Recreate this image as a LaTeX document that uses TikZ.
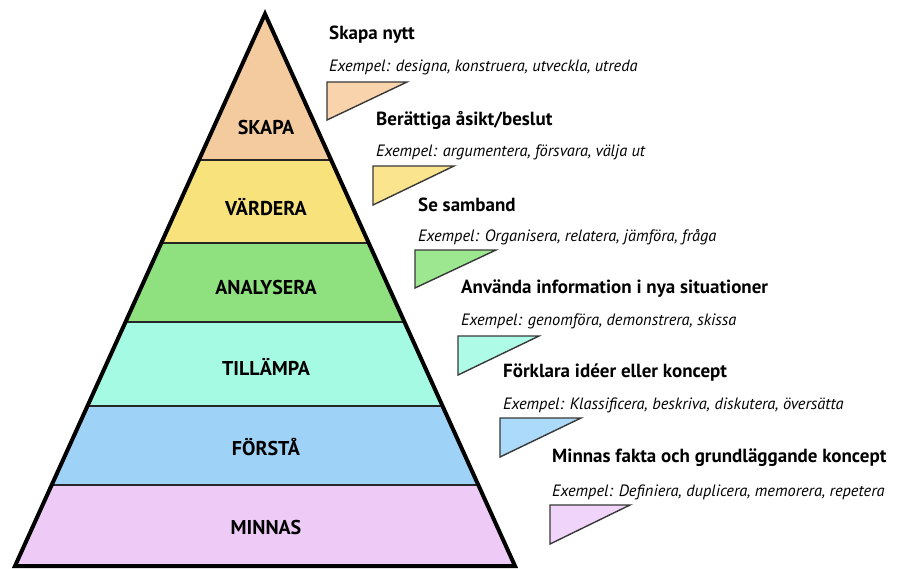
\documentclass[tikz,border=0pt]{standalone}
\usepackage{fontspec}
\setmainfont{PT Sans}
\definecolor{skapafill}{HTML}{F4CB9F}
\definecolor{varderafill}{HTML}{F8E27C}
\definecolor{analysfill}{HTML}{8FE07F}
\definecolor{tillampfill}{HTML}{A4FAE3}
\definecolor{forstafill}{HTML}{9ED2F6}
\definecolor{minnasfill}{HTML}{EECBF7}
\definecolor{skapaflag}{HTML}{F8D3AB}
\definecolor{varderaflag}{HTML}{FAE58E}
\definecolor{analysflag}{HTML}{9DE790}
\definecolor{tillampflag}{HTML}{AEFBE7}
\definecolor{forstaflag}{HTML}{ACDAFA}
\definecolor{minnasflag}{HTML}{F1D4F9}
\tikzset{
  level/.style={font=\bfseries\fontsize{20}{24}\selectfont, inner sep=0pt},
  title/.style={font=\bfseries\fontsize{19}{23}\selectfont, anchor=west, inner sep=0pt},
  example/.style={font=\itshape\fontsize{16.4}{19}\selectfont, anchor=west, inner sep=0pt},
  flag/.style={draw=black!78, line width=1.4pt, line join=miter},
  divider/.style={draw=black!85, line width=1.6pt}
}
\begin{document}
\begin{tikzpicture}[x=1pt, y=-1pt]
  \useasboundingbox (0,0) rectangle (904,568);
  \coordinate (apex) at (265,14);
  \coordinate (bl) at (15,566);
  \coordinate (br) at (515,566);
  % layers
  \begin{scope}
    \clip (apex) -- (bl) -- (br) -- cycle;
    \fill[skapafill] (0,0) rectangle (904,160);
    \fill[varderafill] (0,160) rectangle (904,243);
    \fill[analysfill] (0,243) rectangle (904,322);
    \fill[tillampfill] (0,322) rectangle (904,406);
    \fill[forstafill] (0,406) rectangle (904,485);
    \fill[minnasfill] (0,485) rectangle (904,568);
    \draw[divider] (0,160) -- (904,160);
    \draw[divider] (0,243) -- (904,243);
    \draw[divider] (0,322) -- (904,322);
    \draw[divider] (0,406) -- (904,406);
    \draw[divider] (0,485) -- (904,485);
  \end{scope}
  \draw[line width=4pt, line join=miter] (apex) -- (bl) -- (br) -- cycle;
  \node[level] (skapa) at (266,127) {SKAPA};
  \node[level] (vardera) at (266,207) {VÄRDERA};
  \node[level] (analysera) at (266,287) {ANALYSERA};
  \node[level] (tillampa) at (266,367) {TILLÄMPA};
  \node[level] (forsta) at (266,447) {FÖRSTÅ};
  \node[level] (minnas) at (266,527) {MINNAS};
  % flags
  \draw[flag, fill=skapaflag] (327,82) -- (407,82) -- (327,120) -- cycle;
  \draw[flag, fill=varderaflag] (373,166) -- (454,166) -- (373,205) -- cycle;
  \draw[flag, fill=analysflag] (415,250) -- (496,250) -- (415,288) -- cycle;
  \draw[flag, fill=tillampflag] (458,336) -- (539,336) -- (458,375) -- cycle;
  \draw[flag, fill=forstaflag] (500,418) -- (581,418) -- (500,457) -- cycle;
  \draw[flag, fill=minnasflag] (550,505) -- (630,505) -- (550,544) -- cycle;
  % texts
  \node[title] (t1) at (329,35) {Skapa nytt};
  \node[example] (e1) at (329,67) {Exempel: designa, konstruera, utveckla, utreda};
  \node[title] (t2) at (376,120) {Berättiga åsikt/beslut};
  \node[example] (e2) at (376,152) {Exempel: argumentera, försvara, välja ut};
  \node[title] (t3) at (418,205) {Se samband};
  \node[example] (e3) at (418,237) {Exempel: Organisera, relatera, jämföra, fråga};
  \node[title] (t4) at (461,289) {Använda information i nya situationer};
  \node[example] (e4) at (461,321) {Exempel: genomföra, demonstrera, skissa};
  \node[title] (t5) at (503,373) {Förklara idéer eller koncept};
  \node[example] (e5) at (503,405) {Exempel: Klassificera, beskriva, diskutera, översätta};
  \node[title] (t6) at (552,458) {Minnas fakta och grundläggande koncept};
  \node[example] (e6) at (552,492) {Exempel: Definiera, duplicera, memorera, repetera};
\end{tikzpicture}
\end{document}
